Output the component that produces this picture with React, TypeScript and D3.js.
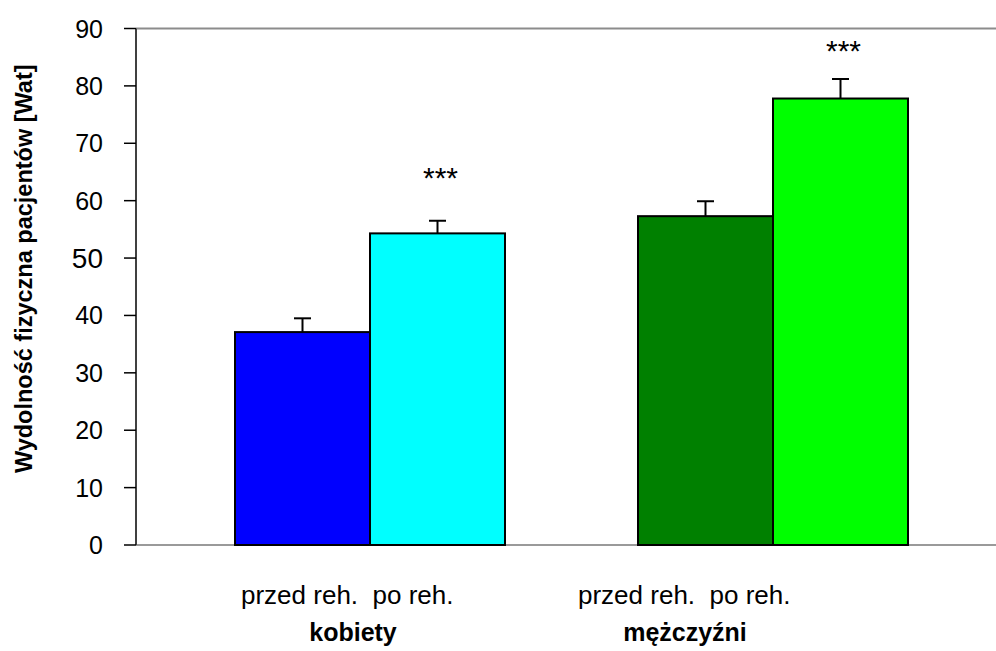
import React, { useEffect } from "react";
import * as d3 from "d3";

const groups = ["kobiety", "mężczyźni"];
const phases = ["przed reh.", "po reh."];
const means = [
  [37.1, 54.3],
  [57.3, 77.8],
];
const errors = [
  [2.4, 2.2],
  [2.6, 3.4],
];
const colors = [
  ["#0000FF", "#00FFFF"],
  ["#008000", "#00FF00"],
];
const stars = [
  ["", "***"],
  ["", "***"],
];
const starLevels = [
  [0, 62.2],
  [0, 84.4],
];
const yTicks = [0, 10, 20, 30, 40, 50, 60, 70, 80, 90];
const subLabel = "przed reh.  po reh.";
const yTitle = "Wydolność fizyczna pacjentów [Wat]";

const W = 996;
const H = 651;
const FONT = "'Liberation Sans', Arial, sans-serif";

export default function App() {
  useEffect(() => {
    document.body.style.margin = "0";
    document.body.style.overflow = "hidden";
  }, []);

  const axisX = 136;
  const y = d3.scaleLinear().domain([0, 90]).range([545, 28.5]);
  const xg = d3
    .scaleBand<string>()
    .domain(groups)
    .range([235, 908])
    .paddingInner(133 / 403)
    .paddingOuter(0);
  const xs = d3
    .scaleBand<string>()
    .domain(phases)
    .range([0, xg.bandwidth()])
    .padding(0);

  const subStart = [241, 578];
  const catCenter = [353, 685];

  return (
    <svg
      width={W}
      height={H}
      style={{ position: "fixed", left: 0, top: 0, display: "block", fontFamily: FONT }}
    >
      <rect x={0} y={0} width={W} height={H} fill="#fff" />
      <line x1={axisX} x2={W} y1={y(90)} y2={y(90)} stroke="#8c8c8c" strokeWidth={2} />
      <line x1={axisX} x2={W} y1={y(0)} y2={y(0)} stroke="#9a9a9a" strokeWidth={2} />
      {groups.map((g, gi) =>
        phases.map((p, pi) => {
          const x0 = (xg(g) as number) + (xs(p) as number);
          const bw = xs.bandwidth();
          const cx = x0 + bw / 2;
          const v = means[gi][pi];
          const e = errors[gi][pi];
          return (
            <g key={g + p}>
              <line x1={cx} x2={cx} y1={y(v)} y2={y(v + e)} stroke="#000" strokeWidth={2} />
              <line x1={cx - 8.5} x2={cx + 8.5} y1={y(v + e)} y2={y(v + e)} stroke="#000" strokeWidth={2} />
              <rect
                x={x0}
                y={y(v)}
                width={bw}
                height={y(0) - y(v)}
                fill={colors[gi][pi]}
                stroke="#000"
                strokeWidth={2}
              />
              {stars[gi][pi] && (
                <text x={cx + 3} y={y(starLevels[gi][pi])} textAnchor="middle" fontSize={30} fill="#000">
                  {stars[gi][pi]}
                </text>
              )}
            </g>
          );
        })
      )}
      <line x1={axisX} x2={axisX} y1={y(90)} y2={y(0)} stroke="#404040" strokeWidth={2} />
      {yTicks.map((t) => (
        <g key={t}>
          <line x1={axisX - 12} x2={axisX} y1={y(t)} y2={y(t)} stroke="#000" strokeWidth={1.5} />
          <text
            x={103}
            y={y(t)}
            dy="0.36em"
            textAnchor="end"
            fontSize={t === 50 ? 28 : 25}
            fill="#000"
          >
            {t}
          </text>
        </g>
      ))}
      {groups.map((g, gi) => (
        <g key={g}>
          <text x={subStart[gi]} y={604} fontSize={26} fill="#000" style={{ whiteSpace: "pre" }} xmlSpace="preserve">
            {subLabel}
          </text>
          <text x={catCenter[gi]} y={641} textAnchor="middle" fontSize={25} fontWeight="bold" fill="#000">
            {g}
          </text>
        </g>
      ))}
      <text
        transform={`translate(32, ${(y(0) + y(90)) / 2 - 18}) rotate(-90)`}
        textAnchor="middle"
        fontSize={23.5}
        fontWeight="bold"
        fill="#000"
      >
        {yTitle}
      </text>
    </svg>
  );
}
